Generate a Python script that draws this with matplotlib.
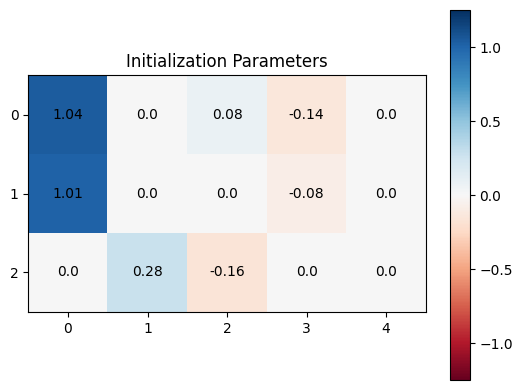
import numpy as np
import matplotlib
matplotlib.use("Agg")
import matplotlib.pyplot as plt

# parameter values per row (rows 0..2, columns 0..4)
row0 = [1.04, 0.0, 0.08, -0.14, 0.0]
row1 = [1.01, 0.0, 0.0, -0.08, 0.0]
row2 = [0.0, 0.28, -0.16, 0.0, 0.0]
values = np.array([row0, row1, row2])

fig = plt.figure(figsize=(5.22, 3.89), dpi=100)
ax = fig.add_axes([0.054, 0.198, 0.762, 0.609])
cax = fig.add_axes([0.862, 0.023, 0.038, 0.951])

im = ax.imshow(values, cmap="RdBu", vmin=-1.25, vmax=1.25, aspect="auto")
ax.set_title("Initialization Parameters")
ax.set_xticks(range(values.shape[1]))
ax.set_yticks(range(values.shape[0]))

for i in range(values.shape[0]):
    for j in range(values.shape[1]):
        ax.text(j, i, str(values[i, j]), ha="center", va="center", color="black")

fig.colorbar(im, cax=cax)

fig.savefig("out.png", dpi=100)
